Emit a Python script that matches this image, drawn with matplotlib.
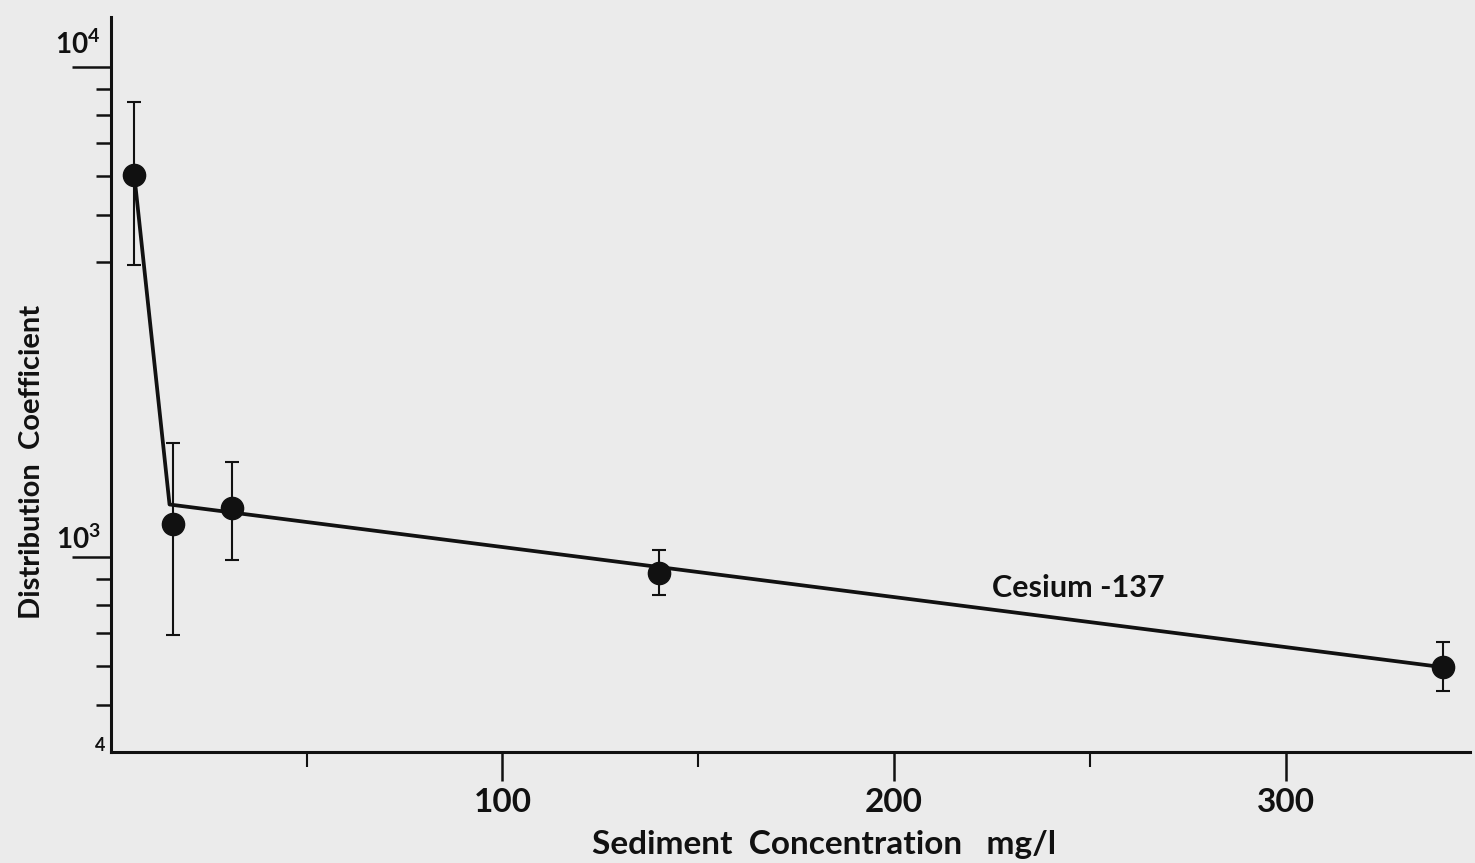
import matplotlib
matplotlib.use('Agg')
from matplotlib import pyplot as plt
from matplotlib.ticker import FixedLocator, NullFormatter

# Cesium-137 distribution coefficient against sediment concentration
conc = [6, 16, 31, 140, 340]
kd = [6020, 1170, 1260, 927, 596]
kd_hi = [8490, 1710, 1560, 1033, 671]
kd_lo = [3950, 693, 986, 837, 533]

# hand drawn trend line
fit_conc = [6, 15, 340]
fit_kd = [6020, 1280, 596]

x_major = [100, 200, 300]
x_minor = [50, 150, 250]
y_major = [1000, 10000]
y_minor = [500, 600, 700, 800, 900, 4000, 5000, 6000, 7000, 8000, 9000]

ink = '#111111'
paper = '#ebebeb'

plt.rcParams['font.family'] = ['Lato', 'DejaVu Sans']
plt.rcParams['font.weight'] = 'bold'

fig = plt.figure(figsize=(14.75, 8.63), dpi=100, facecolor=paper)
ax = fig.add_axes([0.0751, 0.1286, 0.9215, 0.8517])
ax.set_facecolor(paper)

ax.set_yscale('log')
ax.set_xlim(0, 347)
ax.set_ylim(400, 12650)

ax.plot(fit_conc, fit_kd, '-', color=ink, lw=2.7, zorder=2)
yerr = [[k - lo for k, lo in zip(kd, kd_lo)], [hi - k for k, hi in zip(kd, kd_hi)]]
ax.errorbar(conc, kd, yerr=yerr, fmt='o', color=ink, ms=16, elinewidth=1.5,
            capsize=5, capthick=1.5, zorder=3)

for s in ['top', 'right']:
    ax.spines[s].set_visible(False)
for s in ['left', 'bottom']:
    ax.spines[s].set_linewidth(2.2)
    ax.spines[s].set_color(ink)

ax.xaxis.set_major_locator(FixedLocator(x_major))
ax.xaxis.set_minor_locator(FixedLocator(x_minor))
ax.yaxis.set_major_locator(FixedLocator(y_major))
ax.yaxis.set_minor_locator(FixedLocator(y_minor))
ax.yaxis.set_major_formatter(NullFormatter())
ax.yaxis.set_minor_formatter(NullFormatter())

ax.tick_params(axis='x', which='major', direction='out', length=21, width=1.8,
               color=ink, labelsize=24, pad=5, labelcolor=ink)
ax.tick_params(axis='x', which='minor', direction='out', length=11, width=1.5, color=ink)
ax.tick_params(axis='y', which='major', direction='out', length=28, width=1.8, color=ink)
ax.tick_params(axis='y', which='minor', direction='out', length=11, width=1.8, color=ink)

# decade labels sit above and left of their ticks
lab_kw = dict(xycoords=('axes fraction', 'data'), textcoords='offset points',
              ha='center', va='center', color=ink)
ax.annotate(r'$\mathregular{10^4}$', xy=(0, 10000), xytext=(-24, 16), fontsize=20, **lab_kw)
ax.annotate(r'$\mathregular{10^3}$', xy=(0, 1000), xytext=(-23, 13), fontsize=20, **lab_kw)
ax.annotate('4', xy=(0, 400), xytext=(-8, 5), fontsize=13, **lab_kw)

ax.text(247, 865, 'Cesium -137', ha='center', va='center', fontsize=22, color=ink)

fig.text(0.0217, 0.4647, 'Distribution  Coefficient', rotation=90, ha='center',
         va='center', fontsize=21, color=ink)
fig.text(0.559, 0.021, 'Sediment  Concentration   mg/l', ha='center', va='center',
         fontsize=24, color=ink)

fig.savefig('out.png', dpi=100, facecolor=paper)
